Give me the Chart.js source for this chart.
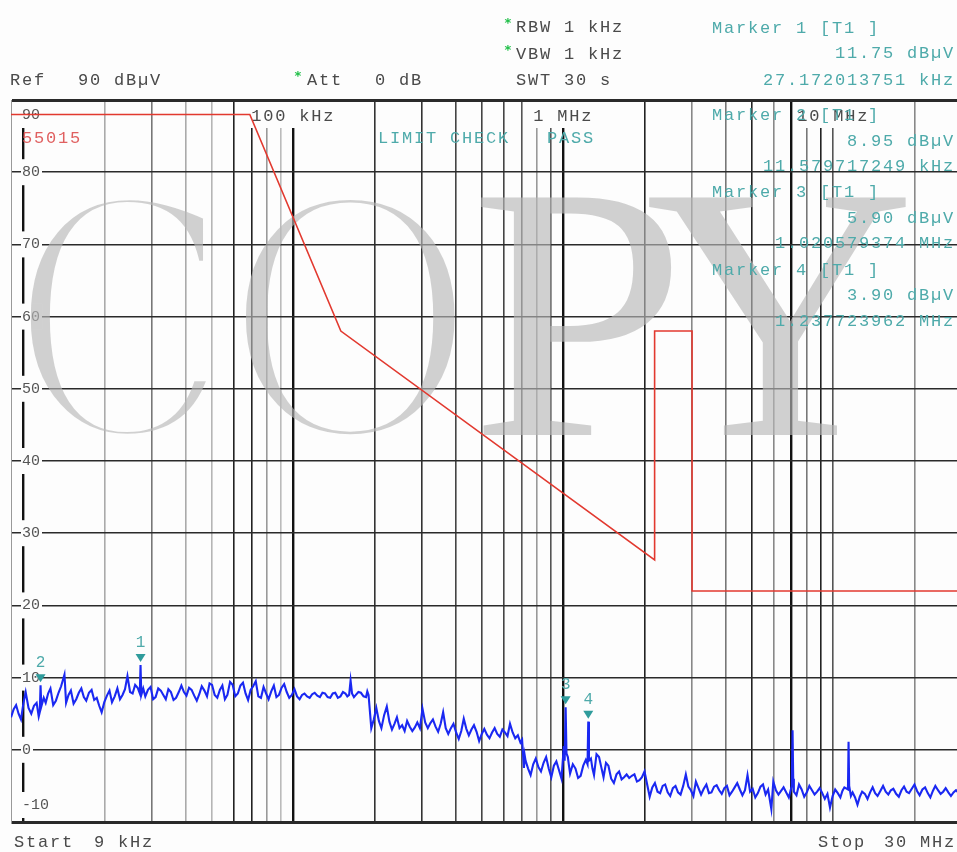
<!DOCTYPE html>
<html>
<head>
<meta charset="utf-8">
<title>EN 55015 scan</title>
<script src="https://cdn.jsdelivr.net/npm/chart.js@4.4.1/dist/chart.umd.min.js"></script>
<style>
  html, body { margin: 0; padding: 0; background: #fdfdfd; overflow: hidden; }
  #wrap { width: 957px; height: 852px; overflow: hidden; }
</style>
</head>
<body>
<div id="wrap"><canvas id="spectrum" width="962" height="852"></canvas></div>
<script>
// Sweep trace (kHz / dBµV)
const traceFreqKHz = [
  9, 9.2, 9.4, 9.6, 9.8, 10.0, 10.2, 10.45, 10.7, 10.95,
  11.2, 11.4, 11.5, 11.58, 11.66, 11.9, 12.1, 12.35, 12.6, 12.9,
  13.2, 13.5, 13.8, 14.2, 14.4, 14.7, 15, 15.35, 15.7, 16.05,
  16.4, 16.75, 17.1, 17.5, 17.9, 18.3, 18.7, 19.1, 19.5, 19.95,
  20.4, 20.85, 21.3, 21.8, 22.3, 22.8, 23.3, 23.8, 24.3, 24.85,
  25.4, 25.95, 26.5, 27.0, 27.17, 27.35, 27.8, 28.3, 28.95, 29.6,
  30.25, 30.9, 31.6, 32.3, 33.0, 33.7, 34.45, 35.2, 36.0, 36.8,
  37.65, 38.5, 39.35, 40.2, 41.1, 42, 42.95, 43.9, 44.85, 45.8,
  46.85, 47.9, 48.95, 50, 51.15, 52.3, 53.45, 54.6, 55.8, 57,
  58.3, 59.6, 60.95, 62.3, 63.7, 65.1, 66.55, 68, 69.5, 71,
  72.6, 74.2, 75.9, 77.6, 79.3, 81, 82.85, 84.7, 86.6, 88.5,
  90.5, 92.5, 94.55, 96.6, 98.8, 101, 103.25, 105.5, 107.75, 110,
  112.5, 115, 117.5, 120, 122.75, 125.5, 128.25, 131, 134, 137,
  140, 143, 146.25, 149.5, 152.75, 156, 158.5, 161, 163, 165,
  167.75, 170.5, 174.25, 178, 182, 186, 188, 190, 194.5, 198.7,
  203, 207.5, 212, 217, 222, 227, 232, 237, 242, 247.5,
  253, 258.5, 264, 270, 276, 282, 288, 294.5, 301, 308,
  315, 322, 329, 336.5, 344, 351.5, 359, 367, 375, 383.5,
  392, 401, 410, 419, 428, 437.5, 447, 457, 467, 477.5,
  488, 499, 510, 521.5, 533, 545, 557, 569.5, 582, 595,
  608, 621.5, 635, 649.5, 664, 679, 694, 704, 715, 720,
  725, 741, 757, 774, 791, 809, 827, 845.5, 864, 883.5,
  903, 923, 943, 964, 985, 1005, 1012, 1020.6, 1028, 1040,
  1050, 1060, 1085, 1110, 1135, 1160, 1186, 1212, 1230, 1237.7,
  1245, 1266, 1283, 1300, 1328, 1357, 1383, 1410, 1440, 1470,
  1505, 1540, 1575, 1610, 1645, 1680, 1717, 1755, 1795, 1835,
  1875, 1915, 1957, 2000, 2090, 2137, 2185, 2235, 2285, 2335,
  2385, 2437, 2490, 2547, 2605, 2662, 2720, 2782, 2845, 2907,
  2970, 3035, 3100, 3170, 3240, 3315, 3390, 3465, 3540, 3620,
  3700, 3782, 3865, 3952, 4040, 4130, 4220, 4315, 4410, 4510,
  4610, 4712, 4815, 4922, 5030, 5145, 5260, 5378, 5495, 5618,
  5740, 5900, 6000, 6135, 6270, 6410, 6550, 6700, 6850, 7020,
  7070, 7110, 7150, 7310, 7470, 7640, 7810, 7985, 8160, 8345,
  8530, 8720, 8910, 9110, 9310, 9520, 9730, 9950, 10170, 10400,
  10630, 10815, 11000, 11340, 11400, 11460, 11630, 11800, 12050, 12300,
  12550, 12800, 13100, 13400, 13700, 14000, 14300, 14600, 14950, 15300,
  15650, 16000, 16350, 16700, 17100, 17500, 17900, 18300, 18700, 19100,
  19550, 20000, 20450, 20900, 21400, 21900, 22400, 22900, 23400, 23900,
  24450, 25000, 25550, 26100, 26700, 27300, 27900, 28500, 29250, 30000
];
const traceLevel = [
  4.5, 5.6, 6.2, 5.0, 4.2, 6.4, 8.0, 5.8, 5.0, 6.1,
  6.5, 4.6, 5.2, 8.95, 6.0, 7.2, 6.5, 7.8, 8.5, 6.2,
  6.8, 7.9, 8.8, 10.4, 6.5, 7.6, 8.2, 6.4, 7.0, 7.9,
  8.5, 7.3, 6.8, 7.9, 8.3, 6.9, 7.2, 6.1, 5.2, 6.6,
  7.5, 8.2, 6.6, 7.4, 8.5, 7.0, 7.6, 8.4, 10.2, 8.0,
  7.8, 9.0, 8.6, 7.8, 11.75, 7.6, 8.5, 7.4, 8.3, 8.7,
  7.0, 7.3, 8.5, 8.2, 7.6, 7.0, 8.4, 8.0, 6.9, 7.2,
  8.0, 8.9, 8.0, 7.5, 8.6, 8.3, 7.5, 6.8, 7.7, 8.8,
  8.2, 7.4, 9.2, 9.0, 7.6, 7.2, 8.3, 8.9, 7.0, 7.6,
  9.4, 9.0, 7.4, 7.8, 8.9, 9.3, 7.8, 6.9, 8.3, 8.8,
  9.5, 7.4, 7.2, 8.7, 7.8, 7.0, 8.1, 8.9, 7.3, 7.6,
  8.6, 9.1, 8.0, 7.2, 7.6, 8.4, 7.4, 7.0, 7.6, 7.8,
  7.4, 7.2, 7.7, 7.9, 7.5, 7.3, 7.9, 7.8, 7.3, 7.2,
  7.8, 7.9, 7.2, 7.4, 8.0, 7.8, 7.4, 7.6, 9.6, 7.8,
  7.3, 7.6, 8.0, 7.9, 7.4, 7.3, 8.1, 7.6, 3.0, 4.2,
  5.8, 4.0, 3.0, 4.8, 6.0, 3.9, 2.8, 3.6, 4.5, 3.0,
  3.4, 2.6, 4.0, 3.2, 2.6, 3.1, 3.8, 3.0, 5.7, 3.8,
  3.0, 3.7, 4.2, 3.2, 2.5, 3.6, 5.2, 3.0, 2.2, 3.0,
  3.6, 2.4, 1.5, 2.6, 4.3, 2.9, 2.0, 2.8, 3.4, 2.5,
  1.2, 2.2, 2.9, 2.1, 1.6, 2.4, 3.0, 2.2, 1.8, 2.8,
  2.4, 1.9, 3.6, 2.4, 1.6, 2.0, 1.0, 1.4, -2.5, -0.8,
  -1.5, -2.6, -3.5, -2.0, -1.2, -2.4, -3.0, -1.8, -1.0, -2.6,
  -3.8, -2.2, -1.6, -2.8, -4.0, 0.5, -1.5, 5.9, -0.5, -1.0,
  -2.2, -3.3, -2.0, -2.6, -3.9, -3.6, -2.2, -1.4, -2.0, 3.9,
  -1.5, -1.2, -2.6, -3.5, -0.6, -1.0, -2.4, -3.8, -1.8, -2.2,
  -4.0, -4.6, -3.4, -3.0, -4.1, -3.8, -3.4, -3.9, -3.6, -3.4,
  -4.4, -4.2, -3.8, -3.0, -6.5, -5.2, -4.6, -5.8, -6.0, -5.0,
  -4.8, -5.9, -6.4, -5.3, -5.0, -5.9, -6.2, -5.0, -3.4, -5.1,
  -5.6, -6.4, -4.4, -5.3, -6.2, -5.4, -4.8, -6.0, -5.9, -5.1,
  -4.9, -5.6, -6.1, -5.3, -5.0, -6.3, -5.8, -5.2, -4.6, -5.5,
  -6.3, -5.6, -3.5, -5.8, -5.4, -6.6, -6.0, -5.1, -4.8, -6.2,
  -5.5, -8.2, -4.4, -5.6, -6.2, -5.7, -5.2, -5.9, -6.6, -5.0,
  2.7, -4.0, -5.8, -6.3, -4.8, -5.5, -6.5, -5.9, -5.0, -5.6,
  -6.2, -5.8, -5.3, -6.0, -6.8, -6.1, -8.0, -6.4, -5.5, -6.0,
  -6.6, -5.7, -5.2, -5.5, 1.1, -5.0, -6.4, -5.9, -6.6, -7.6,
  -6.5, -5.8, -6.1, -6.8, -5.9, -5.2, -6.0, -6.4, -5.7, -5.0,
  -5.8, -6.2, -5.6, -5.4, -6.1, -6.5, -5.6, -5.1, -5.8, -6.0,
  -5.4, -4.8, -5.7, -6.3, -5.5, -5.2, -6.0, -6.6, -5.7, -5.0,
  -5.6, -6.1, -5.8, -5.3, -5.9, -6.4, -5.9, -5.6, -6.0, -5.8
];

// EN 55015 limit line as drawn on screen
const limitFreqKHz = [9, 69, 150, 2180, 2180, 3000, 3000, 30000];
const limitLevel = [88, 88, 58, 26.3, 58, 58, 22, 22];

// Grid / tick values
const gridFreqKHz = [
  10, 20, 30, 40, 50, 60, 70, 80, 90,
  100, 200, 300, 400, 500, 600, 700, 800, 900,
  1000, 2000, 3000, 4000, 5000, 6000, 7000, 8000, 9000,
  10000, 20000
];
const levelTicks = [-10, 0, 10, 20, 30, 40, 50, 60, 70, 80, 90];
const decadeFreqKHz = [100, 1000, 10000];
const decadeLabels = ['100 kHz', '1 MHz', '10 MHz'];

// Markers
const markerNo = [1, 2, 3, 4];
const markerFreqKHz = [27.172013751, 11.579717249, 1020.579374, 1237.723962];
const markerLevel = [11.75, 8.95, 5.90, 3.90];
const markerFreqText = ['27.172013751 kHz', '11.579717249 kHz', '1.020579374 MHz', '1.237723962 MHz'];

// how dark each vertical grid line shows up in the screenshot
const gridShade = {
  10: '#111', 20: '#aaa', 30: '#777', 40: '#aaa', 50: '#b5b5b5', 60: '#222', 70: '#222', 80: '#999', 90: '#bbb',
  100: '#111', 200: '#333', 300: '#333', 400: '#444', 500: '#444', 600: '#444', 700: '#555', 800: '#999', 900: '#555',
  1000: '#111', 2000: '#222', 3000: '#888', 4000: '#777', 5000: '#222', 6000: '#888', 7000: '#111', 8000: '#777',
  9000: '#222', 10000: '#555', 20000: '#888'
};
const heavyLines = [10, 100, 1000, 7000];

const TEAL = '#4eaaaa';
const GREY_TEXT = '#4a4a4a';

function mono(ctx, text, x, y, color, align, size) {
  ctx.font = (size || 17) + 'px "Liberation Mono"';
  ctx.letterSpacing = '1.8px';
  ctx.fillStyle = color;
  ctx.textAlign = align || 'left';
  ctx.textBaseline = 'middle';
  ctx.fillText(text, x, y);
}

// COPY stamp painted on its own layer; round letters get thinned
function drawStamp(ctx, w, h) {
  const layer = document.createElement('canvas');
  layer.width = w;
  layer.height = h;
  const lc = layer.getContext('2d');
  const stamp = [
    ['C', 28, 213, 'DejaVu Serif', 7],
    ['O', 243, 455, 'DejaVu Serif', 7],
    ['P', 476, 677, 'Liberation Serif', 0],
    ['Y', 645, 908, 'Liberation Serif', 0]
  ];
  const top = 197;
  const base = 435;
  lc.textAlign = 'left';
  lc.textBaseline = 'alphabetic';
  lc.fillStyle = '#b8b8b8';
  lc.strokeStyle = '#000';
  lc.lineJoin = 'round';
  stamp.forEach(([ch, l, r, face, thin]) => {
    lc.font = '340px "' + face + '"';
    const m = lc.measureText(ch);
    const gw = m.actualBoundingBoxLeft + m.actualBoundingBoxRight;
    const gh = m.actualBoundingBoxAscent + m.actualBoundingBoxDescent;
    const sx = (r - l + 2 * thin) / gw;
    const sy = (base - top + 2 * thin) / gh;
    lc.save();
    lc.translate(l - thin, base + thin - m.actualBoundingBoxDescent * sy);
    lc.scale(sx, sy);
    lc.globalCompositeOperation = 'source-over';
    lc.fillText(ch, m.actualBoundingBoxLeft, 0);
    if (thin > 0) {
      lc.globalCompositeOperation = 'destination-out';
      lc.lineWidth = thin * 2 / sx;
      lc.strokeText(ch, m.actualBoundingBoxLeft, 0);
    }
    lc.restore();
  });
  ctx.save();
  ctx.globalAlpha = 0.64;
  ctx.drawImage(layer, 0, 0);
  ctx.restore();
}

// Level labels, decade labels and the COPY stamp sit under the traces
const screenBack = {
  id: 'screenBack',
  beforeDatasetsDraw(chart) {
    const ctx = chart.ctx;
    const xs = chart.scales.x;
    const ys = chart.scales.y;
    ctx.save();

    ctx.font = '15px "Liberation Mono"';
    ctx.letterSpacing = '0px';
    ctx.textBaseline = 'middle';
    ctx.textAlign = 'left';
    levelTicks.forEach(v => {
      let y = ys.getPixelForValue(v);
      if (v === 90) y += 15;
      if (v === -10) y -= 17;
      const t = String(v);
      const w = ctx.measureText(t).width;
      ctx.fillStyle = '#fdfdfd';
      ctx.fillRect(21, y - 13, w + 3, 26);
      ctx.fillStyle = '#555';
      ctx.fillText(t, 22, y);
    });

    decadeFreqKHz.forEach((f, i) => {
      const x = xs.getPixelForValue(f);
      ctx.font = '17px "Liberation Mono"';
      ctx.letterSpacing = '1.8px';
      const w = ctx.measureText(decadeLabels[i]).width;
      ctx.fillStyle = '#fdfdfd';
      ctx.fillRect(x - w / 2 - 3, 102, w + 6, 26);
      mono(ctx, decadeLabels[i], x, 116, GREY_TEXT, 'center');
    });
    ctx.restore();

    drawStamp(ctx, chart.width, chart.height);
  }
};

const screenFront = {
  id: 'screenFront',
  afterDatasetsDraw(chart) {
    const ctx = chart.ctx;
    const xs = chart.scales.x;
    const ys = chart.scales.y;
    ctx.save();

    // marker triangles
    markerNo.forEach((n, i) => {
      const x = xs.getPixelForValue(markerFreqKHz[i]);
      const y = ys.getPixelForValue(markerLevel[i]);
      ctx.fillStyle = '#2f9c9c';
      ctx.beginPath();
      ctx.moveTo(x - 5, y - 11);
      ctx.lineTo(x + 5, y - 11);
      ctx.lineTo(x, y - 3);
      ctx.closePath();
      ctx.fill();
      mono(ctx, String(n), x + 1, y - 22, TEAL, 'center', 16);
    });

    // header
    mono(ctx, 'Ref', 10, 80, GREY_TEXT);
    mono(ctx, '90 dB\u00b5V', 78, 80, GREY_TEXT);
    mono(ctx, 'Att', 307, 80, GREY_TEXT);
    mono(ctx, '0 dB', 375, 80, GREY_TEXT);
    mono(ctx, 'RBW 1 kHz', 516, 27, GREY_TEXT);
    mono(ctx, 'VBW 1 kHz', 516, 54, GREY_TEXT);
    mono(ctx, 'SWT 30 s', 516, 80, GREY_TEXT);
    ctx.font = 'bold 13px "DejaVu Sans"';
    ctx.letterSpacing = '0px';
    ctx.fillStyle = '#22c04a';
    ctx.textAlign = 'center';
    ctx.fillText('*', 508, 24);
    ctx.fillText('*', 508, 51);
    ctx.fillText('*', 298, 77);

    // marker readouts
    const rowY = [[28, 53, 80], [115, 141, 166], [192, 218, 243], [270, 295, 321]];
    markerNo.forEach((n, i) => {
      const [a, b, c] = rowY[i];
      mono(ctx, 'Marker ' + n + ' [T1 ]', 712, a, TEAL);
      mono(ctx, markerLevel[i].toFixed(2) + ' dB\u00b5V', 955, b, TEAL, 'right');
      mono(ctx, markerFreqText[i], 955, c, TEAL, 'right');
    });

    mono(ctx, '55015', 22, 138, '#e06060');
    mono(ctx, 'LIMIT CHECK', 378, 138, TEAL);
    mono(ctx, 'PASS', 547, 138, TEAL);

    // footer
    mono(ctx, 'Start', 14, 842, GREY_TEXT);
    mono(ctx, '9 kHz', 94, 842, GREY_TEXT);
    mono(ctx, 'Stop', 818, 842, GREY_TEXT);
    mono(ctx, '30 MHz', 884, 842, GREY_TEXT);
    ctx.restore();
  }
};

const tracePoints = traceFreqKHz.map((f, i) => ({ x: f, y: traceLevel[i] }));
const limitPoints = limitFreqKHz.map((f, i) => ({ x: f, y: limitLevel[i] }));

new Chart(document.getElementById('spectrum'), {
  type: 'line',
  data: {
    datasets: [
      {
        label: 'Limit 55015',
        data: limitPoints,
        borderColor: '#e2392f',
        borderWidth: 1.6,
        pointRadius: 0,
        tension: 0
      },
      {
        label: 'Trace 1',
        data: tracePoints,
        borderColor: '#1a28f2',
        borderWidth: 2.1,
        pointRadius: 0,
        tension: 0
      }
    ]
  },
  options: {
    responsive: false,
    animation: false,
    layout: { padding: { left: 11, right: 0, top: 100, bottom: 30 } },
    plugins: {
      legend: { display: false },
      tooltip: { enabled: false },
      title: { display: false }
    },
    scales: {
      x: {
        type: 'logarithmic',
        min: 9,
        max: 30000,
        afterBuildTicks: (scale) => { scale.ticks = gridFreqKHz.map(v => ({ value: v })); },
        ticks: { display: false },
        border: { display: false },
        grid: {
          drawTicks: false,
          color: (c) => gridShade[c.tick.value] || '#888',
          lineWidth: (c) => heavyLines.includes(c.tick.value) ? 2.4 : 1.6
        }
      },
      y: {
        type: 'linear',
        min: -10,
        max: 90,
        afterBuildTicks: (scale) => { scale.ticks = levelTicks.map(v => ({ value: v })); },
        ticks: { display: false },
        border: { display: true, color: '#999', width: 1 },
        grid: {
          drawTicks: false,
          color: '#2a2a2a',
          lineWidth: (c) => (c.tick.value === 90 || c.tick.value === -10) ? 3 : 1.6
        }
      }
    }
  },
  plugins: [screenBack, screenFront]
});
</script>
</body>
</html>
